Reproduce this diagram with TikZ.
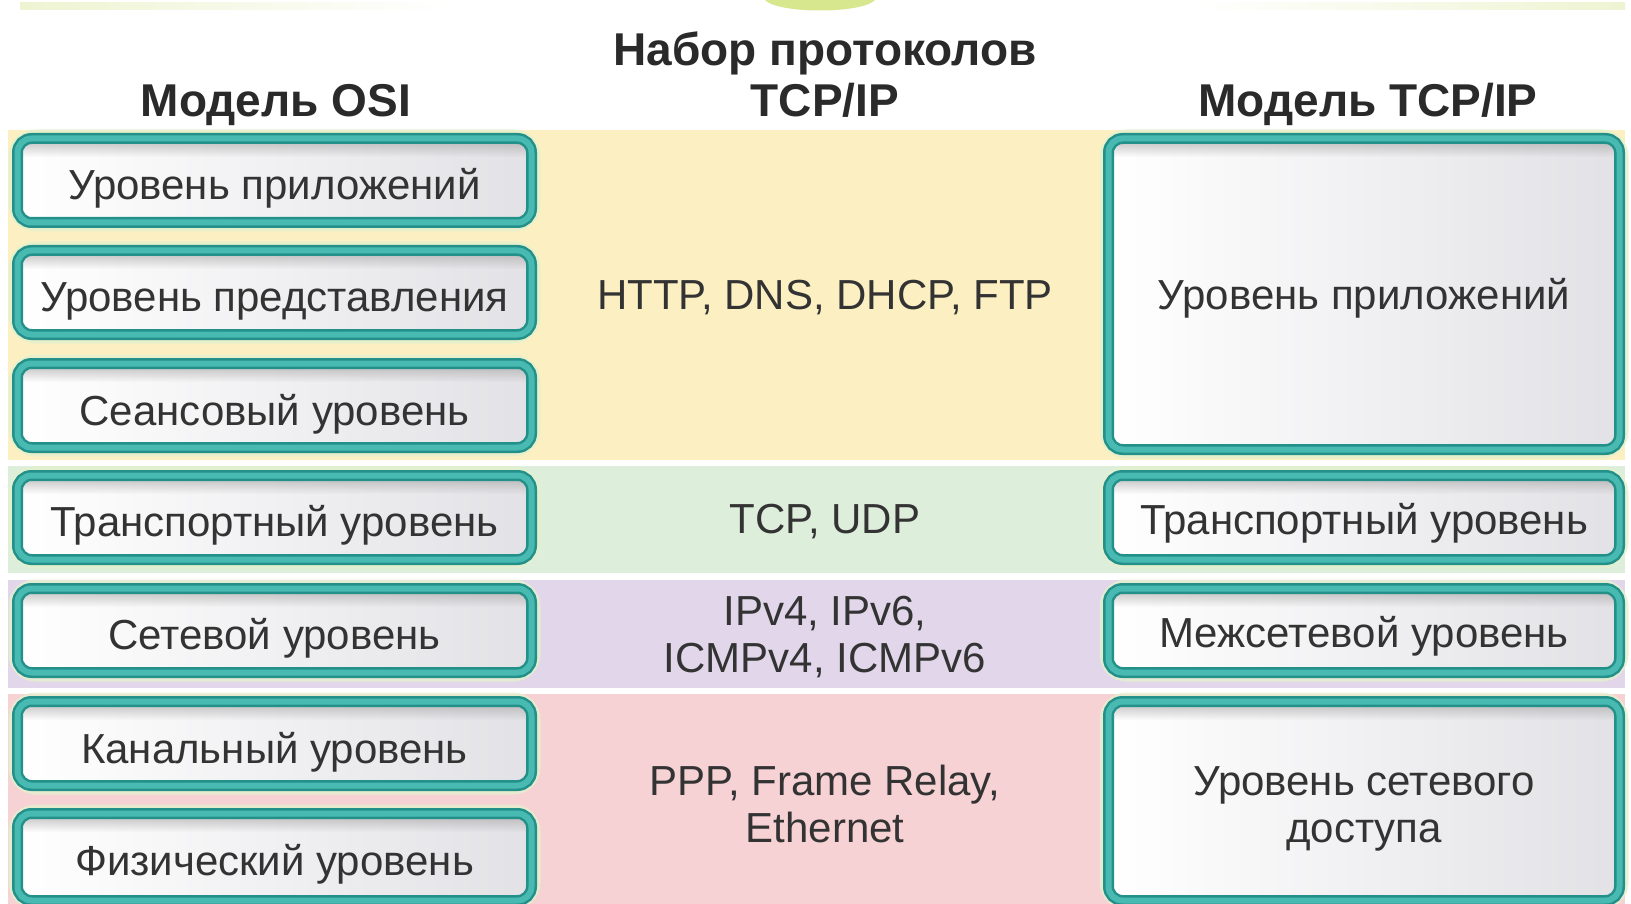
\documentclass[tikz,border=0pt]{standalone}
\usepackage{fontspec}
\setmainfont{Liberation Sans}
\usetikzlibrary{fadings}
\definecolor{ringdark}{HTML}{23908A}
\definecolor{ringmid}{HTML}{49BAB2}
\definecolor{glowc}{HTML}{E4F1CE}
\definecolor{innerR}{HTML}{E2E2E6}
\definecolor{bandY}{HTML}{FCF0C2}
\definecolor{bandG}{HTML}{DDEEDB}
\definecolor{bandP}{HTML}{E2D6EA}
\definecolor{bandR}{HTML}{F7D2D5}
\definecolor{deco}{HTML}{EEF4D2}
\definecolor{decogreen}{HTML}{D6E78E}
\definecolor{txt}{HTML}{333333}
\definecolor{headtxt}{HTML}{2A2A2A}
\tikzfading[name=topshade, top color=transparent!10, bottom color=transparent!100]
\newcommand{\layerbox}[4]{%
  % #1,#2 = top-left outer corner, #3,#4 = bottom-right outer corner
  \draw[glowc, line width=18pt, rounded corners=18pt, opacity=0.8] (#1+5.5,#2+5.5) rectangle (#3-5.5,#4-5.5);
  \shade[left color=white, right color=innerR, rounded corners=14pt] (#1+5.5,#2+5.5) rectangle (#3-5.5,#4-5.5);
  \begin{scope}
    \clip[rounded corners=10pt] (#1+8,#2+8) rectangle (#3-8,#4-8);
    \fill[gray!75, path fading=topshade] (#1,#2) rectangle (#3,#2+24);
  \end{scope}
  \draw[ringdark, line width=11pt, rounded corners=14pt] (#1+5.5,#2+5.5) rectangle (#3-5.5,#4-5.5);
  \draw[ringmid, line width=6pt, rounded corners=14pt] (#1+5.5,#2+5.5) rectangle (#3-5.5,#4-5.5);
}
\tikzset{
  body/.style={font=\fontsize{42}{47}\selectfont, text=txt, inner sep=0pt, align=center},
  head/.style={font=\fontsize{46}{51}\selectfont\bfseries, text=headtxt, inner sep=0pt, align=center},
}
\begin{document}
\begin{tikzpicture}[x=1pt,y=-1pt]
\useasboundingbox (0,0) rectangle (1631,904);
\fill[white] (0,0) rectangle (1631,904);
% top decorations
\shade[left color=deco, right color=white] (20,3) rectangle (445,10);
\shade[left color=white, right color=deco] (1195,3) rectangle (1625,10);
\fill[decogreen] (765,0) -- (875,0) .. controls (862,14) and (778,14) .. (765,0) -- cycle;
% bands
\fill[bandY] (8,130) rectangle (1625,460);
\fill[bandG] (8,466) rectangle (1625,573);
\fill[bandP] (8,580) rectangle (1625,688);
\fill[bandR] (8,694) rectangle (1625,904);
% headers
\node[head, anchor=base] (hosi) at (276,117) {Модель OSI};
\node[head] (hset) at (825,74.5) {Набор протоколов\\TCP/IP};
\node[head, anchor=base] (htcp) at (1368,117) {Модель TCP/IP};
% left column
\layerbox{12}{133}{537}{228}
\layerbox{12}{245}{537}{340}
\layerbox{12}{358}{537}{453}
\layerbox{12}{470}{537}{565}
\layerbox{12}{583}{537}{678}
\layerbox{12}{696}{537}{791}
\layerbox{12}{808}{537}{906}
\node[body, anchor=base] (o7) at (274.5,200) {Уровень приложений};
\node[body, anchor=base] (o6) at (274.5,312) {Уровень представления};
\node[body, anchor=base] (o5) at (274.5,425) {Сеансовый уровень};
\node[body, anchor=base] (o4) at (274.5,536) {Транспортный уровень};
\node[body, anchor=base] (o3) at (274.5,649) {Сетевой уровень};
\node[body, anchor=base] (o2) at (274.5,763) {Канальный уровень};
\node[body, anchor=base] (o1) at (274.5,875) {Физический уровень};
% right column
\layerbox{1103}{133}{1625}{455}
\layerbox{1103}{470}{1625}{565}
\layerbox{1103}{583}{1625}{678}
\layerbox{1103}{696}{1625}{906}
\node[body, anchor=base] (t4) at (1364,309) {Уровень приложений};
\node[body, anchor=base] (t3) at (1364,534) {Транспортный уровень};
\node[body, anchor=base] (t2) at (1364,647) {Межсетевой уровень};
\node[body] (t1) at (1364,809) {Уровень сетевого\\доступа};
% protocols
\node[body, anchor=base] (p4) at (825,309) {HTTP, DNS, DHCP, FTP};
\node[body, anchor=base] (p3) at (825,533) {TCP, UDP};
\node[body] (p2) at (825,637.5) {IPv4, IPv6,\\ICMPv4, ICMPv6};
\node[body] (p1) at (825,804) {PPP, Frame Relay,\\Ethernet};
\end{tikzpicture}
\end{document}
